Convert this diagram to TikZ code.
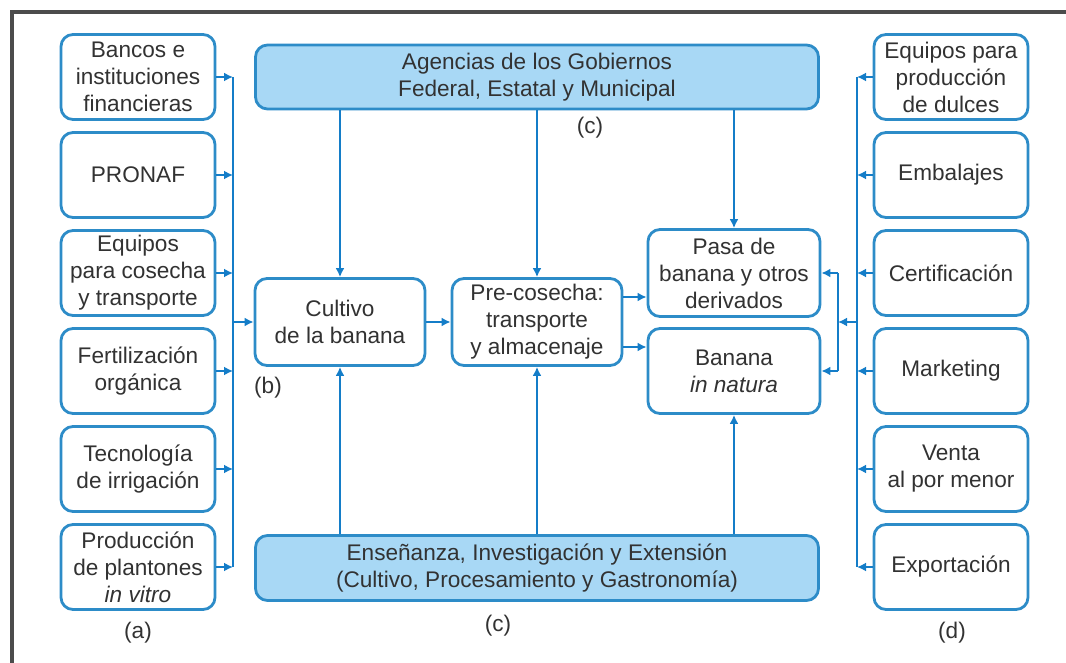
\documentclass[tikz,border=0pt]{standalone}
\usepackage{fontspec}
\setmainfont{Liberation Sans}
\usetikzlibrary{arrows.meta}
\definecolor{linkblue}{RGB}{20,125,200}
\definecolor{boxline}{RGB}{45,140,200}
\definecolor{boxfill}{RGB}{168,216,245}
\definecolor{txtgray}{RGB}{50,50,50}
\tikzset{sidebox/.style={draw=boxline,line width=1.4pt,rounded corners=6pt,fill=white,text=txtgray,align=center,minimum width=77pt,minimum height=42.5pt,inner sep=0pt,font=\fontsize{11.3}{13.5}\selectfont}}
\tikzset{midbox/.style={sidebox,minimum width=85pt,minimum height=43.5pt}}
\tikzset{govbox/.style={sidebox,fill=boxfill,minimum width=281.5pt,minimum height=32pt}}
\tikzset{flow/.style={-{Latex[length=4.5pt,width=4.5pt]},draw=linkblue,line width=1.1pt}}
\tikzset{bus/.style={draw=linkblue,line width=1.1pt}}
\tikzset{tag/.style={text=txtgray,font=\fontsize{11.3}{13.5}\selectfont}}

\begin{document}
\begin{tikzpicture}[x=0.5pt,y=-0.5pt]
    \useasboundingbox (0,0) rectangle (1066,663);
    \draw[line width=1.8pt,draw=black!70] (12,663) -- (12,12) -- (1066,12);
    % (a) inputs
    \node[sidebox] (bancos) at (138,77) {Bancos e\\instituciones\\financieras};
    \node[sidebox] (pronaf) at (138,175) {PRONAF};
    \node[sidebox] (cosecha) at (138,273) {Equipos\\para cosecha\\y transporte};
    \node[sidebox] (fertil) at (138,371) {Fertilización\\orgánica};
    \node[sidebox] (irriga) at (138,469) {Tecnología\\de irrigación};
    \node[sidebox] (plantones) at (138,567) {Producción\\de plantones\\\textit{in vitro}};
    % (d) outputs
    \node[sidebox] (dulces) at (951,77) {Equipos para\\producción\\de dulces};
    \node[sidebox] (embalajes) at (951,175) {Embalajes};
    \node[sidebox] (certif) at (951,273) {Certificación};
    \node[sidebox] (marketing) at (951,371) {Marketing};
    \node[sidebox] (venta) at (951,469) {Venta\\al por menor};
    \node[sidebox] (export) at (951,567) {Exportación};
    % chain
    \node[midbox] (cultivo) at (340,322) {Cultivo\\de la banana};
    \node[midbox] (pre) at (537,322) {Pre-cosecha:\\transporte\\y almacenaje};
    \node[midbox,minimum width=86pt] (pasa) at (734,273) {Pasa de\\banana y otros\\derivados};
    \node[midbox,minimum width=86pt,minimum height=42.5pt] (banana) at (734,371) {Banana\\\textit{in natura}};
    \node[govbox] (agencias) at (537,77) {Agencias de los Gobiernos\\Federal, Estatal y Municipal};
    \node[govbox,minimum height=32.5pt] (ensenanza) at (537,568) {Enseñanza, Investigación y Extensión\\(Cultivo, Procesamiento y Gastronomía)};
    % labels
    \node[tag] (taga) at (138,633) {(a)};
    \node[tag] (tagb) at (268,388) {(b)};
    \node[tag] (tagc) at (590,128) {(c)};
    \node[tag] (tagcc) at (498,626) {(c)};
    \node[tag] (tagd) at (952,633) {(d)};
    % buses
    \coordinate (lbus) at (233,0);
    \coordinate (rbus) at (857,0);
    \coordinate (pbus) at (838,0);
    \foreach \n in {bancos,pronaf,cosecha,fertil,irriga,plantones}
        \draw[flow] (\n.east) -- (\n.east -| lbus);
    \draw[bus] (bancos.east -| lbus) -- (plantones.east -| lbus);
    \draw[flow] (lbus |- cultivo.west) -- (cultivo.west);
    \foreach \n in {dulces,embalajes,certif,marketing,venta,export}
        \draw[flow] (\n.west) -- (\n.west -| rbus);
    \draw[bus] (dulces.west -| rbus) -- (export.west -| rbus);
    \draw[flow] (rbus |- 0,322) -- (pbus |- 0,322);
    \draw[bus] (pbus |- pasa.east) -- (pbus |- banana.east);
    \draw[flow] (pbus |- pasa.east) -- (pasa.east);
    \draw[flow] (pbus |- banana.east) -- (banana.east);
    % main flow
    \draw[flow] (cultivo) -- (pre);
    \draw[flow] (pre.east |- 0,297) -- (pasa.west |- 0,297);
    \draw[flow] (pre.east |- 0,347) -- (banana.west |- 0,347);
    \foreach \n in {cultivo,pre,pasa}
        \draw[flow] (agencias.south -| \n.north) -- (\n.north);
    \foreach \n in {cultivo,pre,banana}
        \draw[flow] (ensenanza.north -| \n.south) -- (\n.south);
\end{tikzpicture}
\end{document}
